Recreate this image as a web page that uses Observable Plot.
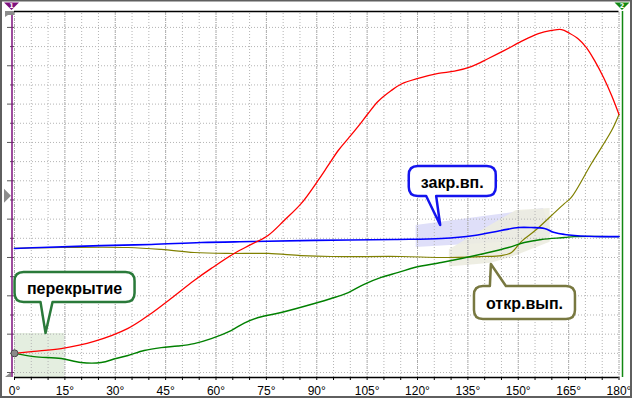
<!DOCTYPE html>
<html><head><meta charset="utf-8">
<script src="https://cdn.jsdelivr.net/npm/d3@7"></script>
<script src="https://cdn.jsdelivr.net/npm/@observablehq/plot@0.6"></script>
<style>
html,body{margin:0;padding:0;background:#fff;}
#chart svg{display:block;}
</style>
</head><body><div id="chart"></div>
<script>
// ---- data (degrees of crank angle, relative lift) ----
const xTickLabels = [0,15,30,45,60,75,90,105,120,135,150,165,180];
const xMinor = [0,5,10,15,20,25,30,35,40,45,50,55,60,65,70,75,80,85,90,95,100,105,110,115,120,125,130,135,140,145,150,155,160,165,170,175,180];
const yGrid = [0,1,2,3,4,5,6,7,8,9,10,11,12,13,14,15,16,17,18];
const yMajor = [0,2,4,6,8,10,12,14,16,18];
const yMinorT = [1,3,5,7,9,11,13,15,17];
const yMin = -0.26, yMax = 18.83;

const red = [[0,1.0],[5.8,1.1],[13.9,1.25],[23.7,1.62],[33.8,2.30],[40.7,3.08],[46.6,3.86],[53.5,4.80],[58.6,5.43],[65.4,6.21],[70.5,6.68],[75.5,7.15],[80.3,7.93],[85.4,8.82],[90.4,10.02],[93.4,10.80],[96.4,11.58],[99.4,12.21],[102.4,12.85],[105.3,13.51],[108.3,14.15],[112.2,14.71],[115.2,15.05],[120.2,15.34],[126.2,15.60],[131.0,15.72],[136.0,15.96],[141.1,16.38],[145.9,16.80],[150.9,17.27],[156.0,17.68],[159.9,17.84],[162.9,17.89],[165.2,17.70],[167.9,17.40],[170.3,16.95],[172.7,16.28],[175.4,15.39],[177.8,14.45],[180,13.46]];
const blue = [[0,6.47],[7.9,6.52],[25.8,6.62],[40.7,6.68],[55.6,6.78],[70.5,6.83],[89.3,6.89],[113.1,6.94],[127.1,6.99],[136.9,7.15],[145.0,7.41],[150.1,7.56],[153.9,7.56],[157.8,7.51],[160.8,7.30],[163.8,7.20],[166.7,7.15],[174.8,7.09],[180,7.09]];
const olive = [[0,6.47],[13.9,6.52],[33.8,6.52],[43.7,6.42],[53.5,6.26],[63.6,6.21],[75.5,6.21],[85.4,6.10],[94.3,6.05],[115.2,6.05],[127.1,6.00],[139.0,6.05],[145.0,6.10],[148.0,6.26],[150.9,6.83],[155.4,7.46],[159.9,8.19],[163.8,8.82],[165.8,9.13],[171.8,10.90],[177.8,12.62],[180,13.46]];
const green = [[0,1.0],[5.8,0.83],[13.9,0.73],[19.8,0.52],[25.8,0.52],[30.2,0.73],[33.8,0.89],[38.6,1.15],[43.7,1.30],[48.7,1.38],[53.5,1.51],[58.6,1.77],[64.5,2.19],[68.4,2.58],[72.6,2.87],[79.4,3.13],[89.3,3.60],[94.3,3.86],[99.4,4.17],[104.1,4.60],[109.2,4.96],[114.3,5.22],[119.1,5.48],[127.1,5.74],[133.1,5.95],[139.9,6.21],[147.1,6.52],[151.8,6.78],[156.9,6.94],[163.8,7.04],[166.7,7.09],[180,7.09]];

// shaded zones [deg, low, high]
const overlapZone = [[0,yMin,2.03],[15,yMin,2.03]];
const closeZone = [[119.6,6.52,7.67],[157.5,6.9,8.55],[160,7.28,7.32]];
const openZone = [[129.5,5.5,6.4],[142,5.7,7.7],[149.5,6.1,8.45],[159.5,6.8,8.55]];

const startPoint = [[0,1.0]];

const callouts = [
  {label:"перекрытие", tip:[9.39,2.03], box:[18.03,4.43], w:120, h:30, base:[-5,7], color:"#2a7a3a"},
  {label:"закр.вп.", tip:[126.9,7.67], box:[130.5,9.96], w:87, h:30, base:[-14,-4], color:"#1414ee"},
  {label:"откр.вып.", tip:[142.0,5.63], box:[152.0,3.63], w:101, h:33, base:[-1,15], color:"#787840"}
];

const X = d => d[0], Y = d => d[1];

const chart = Plot.plot({
  width: 632, height: 398,
  marginLeft: 14, marginRight: 13.5, marginTop: 11, marginBottom: 21,
  x: {domain: [0,180]},
  y: {domain: [yMin, yMax]},
  style: {fontFamily: "'Liberation Sans', Arial, sans-serif", fontSize: "12px", background: "#fff", color: "#000"},
  marks: [
    Plot.areaY(overlapZone, {x: X, y1: d=>d[1], y2: d=>d[2], fill: "#e4eee0"}),
    Plot.areaY(closeZone, {x: X, y1: d=>d[1], y2: d=>d[2], fill: "#dfdff9"}),
    Plot.areaY(openZone, {x: X, y1: d=>d[1], y2: d=>d[2], fill: "#ecece0", fillOpacity: 0.9}),
    Plot.ruleX(xMinor, {stroke: "#b4b4b4", strokeDasharray: "1,2", y1: yMin, y2: yMax}),
    Plot.ruleX(xTickLabels, {stroke: "#a8a8a8", strokeDasharray: "1,1", y1: yMin, y2: yMax}),
    Plot.ruleY(yGrid, {stroke: "#b4b4b4", strokeDasharray: "1,2"}),
    Plot.axisY({ticks: yMajor, tickSize: 7, tickFormat: () => "", stroke: "#5a5a5a"}),
    Plot.axisY({ticks: yMinorT, tickSize: 4, tickFormat: () => "", stroke: "#5a5a5a"}),
    Plot.axisX({ticks: xMinor, tickSize: 3, tickPadding: 6, tickFormat: d => xTickLabels.includes(d) ? d + "°" : "", stroke: "#000", fontSize: 12}),
    Plot.ruleY([yMin], {stroke: "#000", strokeWidth: 1.5}),
    Plot.ruleY([yMax], {stroke: "#000", strokeWidth: 1.5}),
    Plot.line(olive, {x: X, y: Y, stroke: "#808000", strokeWidth: 1.2, curve: "catmull-rom"}),
    Plot.line(green, {x: X, y: Y, stroke: "#008000", strokeWidth: 1.4, curve: "catmull-rom"}),
    Plot.line(blue, {x: X, y: Y, stroke: "#0000ff", strokeWidth: 1.6, curve: "catmull-rom"}),
    Plot.line(red, {x: X, y: Y, stroke: "#ff0000", strokeWidth: 1.3, curve: "catmull-rom"}),
    Plot.ruleX([0], {dx: -2.5, stroke: "#7d107d", strokeWidth: 1.5, y1: yMin, y2: yMax}),
    Plot.ruleX([180], {dx: 3.5, stroke: "#118811", strokeWidth: 1.5, y1: yMin, y2: yMax}),
    Plot.dot(startPoint, {x: X, y: Y, r: 3.5, fill: "#8a8a8a", stroke: "#4a4a4a", strokeWidth: 1})
  ]
});

document.getElementById("chart").appendChild(chart);

const svgEl = chart.tagName.toLowerCase() === "svg" ? chart : chart.querySelector("svg");
const svg = d3.select(svgEl);
const sx = chart.scale("x").apply, sy = chart.scale("y").apply;

// callouts
const g = svg.append("g");
for (const c of callouts) {
  const tx = sx(c.tip[0]), ty = sy(c.tip[1]);
  const cx = sx(c.box[0]), cy = sy(c.box[1]);
  const x0 = cx - c.w/2, x1 = cx + c.w/2, y0 = cy - c.h/2, y1 = cy + c.h/2, r = 9;
  const b1 = tx + c.base[0], b2 = tx + c.base[1];
  let p;
  if (ty > y1) {
    p = `M${x0+r},${y0}H${x1-r}Q${x1},${y0} ${x1},${y0+r}V${y1-r}Q${x1},${y1} ${x1-r},${y1}H${b2}L${tx},${ty}L${b1},${y1}H${x0+r}Q${x0},${y1} ${x0},${y1-r}V${y0+r}Q${x0},${y0} ${x0+r},${y0}Z`;
  } else {
    p = `M${x0+r},${y0}H${b1}L${tx},${ty}L${b2},${y0}H${x1-r}Q${x1},${y0} ${x1},${y0+r}V${y1-r}Q${x1},${y1} ${x1-r},${y1}H${x0+r}Q${x0},${y1} ${x0},${y1-r}V${y0+r}Q${x0},${y0} ${x0+r},${y0}Z`;
  }
  g.append("path").attr("d", p).attr("fill", "#fff").attr("stroke", c.color).attr("stroke-width", 2.5).attr("stroke-linejoin", "round");
  g.append("text").attr("x", cx).attr("y", cy + 6.5).attr("text-anchor", "middle")
    .attr("font-family", "'Liberation Sans', Arial, sans-serif").attr("font-size", 16).attr("font-weight", "bold")
    .attr("fill", "#000").text(c.label);
}

// cursor markers & frame decorations
const px0 = sx(0) - 2.5, px1 = sx(180) + 3.5;
const topY = sy(yMax), botY = sy(yMin);
function marker(x, color, lbl) {
  svg.append("path").attr("d", `M${x-7.5},${topY-8.5}H${x+7.5}L${x},${topY-1}Z`).attr("fill", color);
  svg.append("text").attr("x", x).attr("y", topY-3.5).attr("text-anchor", "middle")
    .attr("font-family", "'DejaVu Sans', sans-serif").attr("font-size", 6.5).attr("font-weight", "bold").attr("fill", "#fff").text(lbl);
}
marker(px0, "#7d107d", "1");
marker(px1, "#118811", "2");
const midY = sy(9.2);
svg.append("path").attr("d", `M4,${midY-7}L11,${midY}L4,${midY+7}Z`).attr("fill", "#8c8c8c");
svg.append("path").attr("d", `M5,${topY}H14V${topY+4}H8L5,${topY+6}Z`).attr("fill", "#8c8c8c");
svg.append("path").attr("d", `M5,${botY}L11,${botY-5}V${botY}Z`).attr("fill", "#8c8c8c");
svg.append("rect").attr("x", 1).attr("y", 0.5).attr("width", 630).attr("height", 396.5)
  .attr("fill", "none").attr("stroke", "#5f5f5f").attr("stroke-width", 2);
</script>
</body></html>
